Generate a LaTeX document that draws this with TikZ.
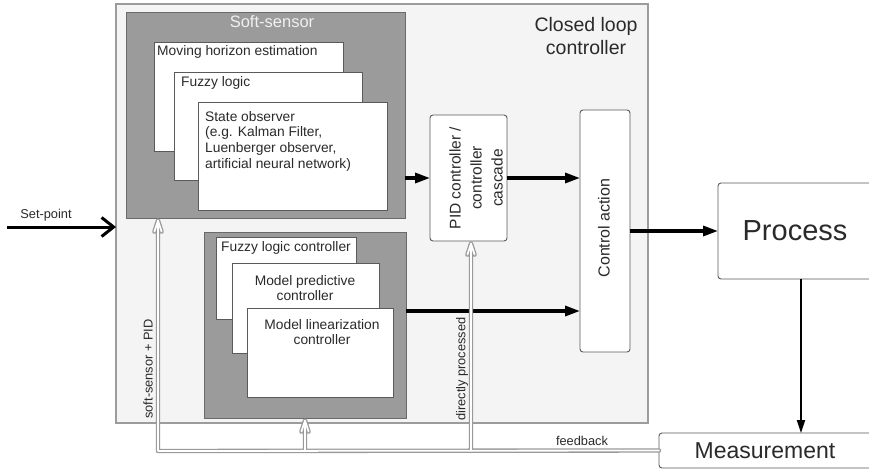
\documentclass[tikz,border=0pt]{standalone}
\usepackage{fontspec}
\setmainfont{Liberation Sans}
\usetikzlibrary{arrows.meta,calc}

\definecolor{panel}{HTML}{F4F4F4}
\definecolor{paneledge}{HTML}{9C9C9C}
\definecolor{groupfill}{HTML}{9B9B9B}
\definecolor{groupedge}{HTML}{6A6A6A}
\definecolor{cardedge}{HTML}{5A5A5A}
\definecolor{ink}{HTML}{2A2A2A}
\definecolor{pipe}{HTML}{9A9A9A}

\tikzset{
  frame/.style 2 args={anchor=north west, minimum width=#1pt, minimum height=#2pt, inner sep=0pt, outer sep=0pt},
  panelbox/.style={draw=paneledge, fill=panel, line width=1.2pt},
  groupbox/.style={draw=groupedge, fill=groupfill, line width=0.9pt},
  card/.style={draw=cardedge, fill=white, line width=0.9pt},
  rcard/.style={card, rounded corners=3pt},
  lbl/.style={font=\fontsize{13.8}{15.6}\selectfont, text=ink, inner sep=0pt},
  small/.style={lbl, font=\fontsize{12.8}{15}\selectfont},
  flow/.style={draw=black, line width=3.2pt, -{Triangle[length=15pt,width=10pt]}},
  thinflow/.style={draw=black, line width=1.8pt, -{Triangle[length=13pt,width=8pt]}},
  setarrow/.style={draw=black, line width=3pt, -{Straight Barb[length=12pt,width=19pt,line width=3pt]}},
  pipeout/.style={draw=pipe, line width=4.4pt, line join=round, line cap=round},
  pipein/.style={draw=white, line width=1.8pt, line join=round, line cap=round},
}

\begin{document}
\begin{tikzpicture}[x=1pt,y=-1pt]
  \useasboundingbox (0,0) rectangle (869,469);
  \clip (0,0) rectangle (869,469);
  \fill[white] (0,0) rectangle (869,469);

  % closed loop controller frame
  \node[panelbox, frame={532}{419}] (loop) at (116,4) {};
  \node[lbl, font=\fontsize{19.5}{23}\selectfont, align=center] (looptitle) at (586,36) {Closed loop\\controller};

  % soft-sensor group
  \node[groupbox, frame={279}{206}] (soft) at (126,12) {};
  \node[lbl, font=\fontsize{16.5}{19}\selectfont, text=white!94!black] (softtitle) at (272,22) {Soft-sensor};
  \node[card, frame={189}{109}] (mhe) at (154,42) {};
  \node[lbl, anchor=west] (mhetext) at (157,52) {Moving horizon estimation};
  \node[card, frame={188}{108}] (fuzzy) at (174,72) {};
  \node[lbl, anchor=west] (fuzzytext) at (181,83) {Fuzzy logic};
  \node[card, frame={189}{108}] (observer) at (198,102) {};
  \node[lbl, anchor=north west, align=left] (observertext) at (205,111)
    {State observer\\(e.g. Kalman Filter,\\Luenberger observer,\\artificial neural network)};

  % model based controller group
  \node[groupbox, frame={202}{186}] (ctrl) at (204,232) {};
  \node[card, frame={140}{82}] (flc) at (216,237) {};
  \node[lbl] (flctext) at (286,248) {Fuzzy logic controller};
  \node[card, frame={147}{90}] (mpc) at (232,263) {};
  \node[lbl, align=center] (mpctext) at (305,288) {Model predictive\\controller};
  \node[card, frame={146}{89}] (mlc) at (247,308) {};
  \node[lbl, align=center] (mlctext) at (322,332) {Model linearization\\controller};

  % PID and control action
  \node[rcard, frame={77}{126}] (pid) at (430,115) {};
  \node[lbl, font=\fontsize{15.5}{21}\selectfont, align=center, rotate=90] (pidtext) at (476,178)
    {PID controller /\\controller\\cascade};
  \node[rcard, frame={50}{242}] (act) at (580,110) {};
  \node[lbl, font=\fontsize{16}{19}\selectfont, rotate=90] (acttext) at (604,228) {Control action};

  % plant side
  \node[rcard, frame={190}{96}] (proc) at (718,183) {};
  \node[lbl, font=\fontsize{29}{33}\selectfont] (proctext) at (795,231) {Process};
  \node[rcard, frame={240}{35}] (meas) at (659,433) {};
  \node[lbl, font=\fontsize{23}{26}\selectfont] (meastext) at (765,451) {Measurement};

  % set-point input
  \coordinate (spstart) at (7,227);
  \draw[setarrow] (spstart) -- (spstart -| loop.west);
  \node[small] (sptext) at (46,215) {Set-point};

  % signal flow
  \draw[flow] (pid.west -| soft.east) -- (pid.west);
  \draw[flow] (pid.east) -- (pid.east -| act.west);
  \draw[flow] (proc.west -| act.east) -- (proc.west);
  \draw[flow] ([yshift=14pt]ctrl.east) -- ([yshift=14pt]ctrl.east -| act.west);
  \draw[thinflow] ([xshift=-12pt]proc.south) -- ([xshift=-12pt]proc.south |- meas.north);

  % feedback pipes (drawn as hollow double lines)
  \coordinate (fbcorner) at (158,451);
  \coordinate (fbmid) at (305,451);
  \coordinate (fbpid) at (471,451);
  \coordinate (tipA) at ($(fbcorner |- soft.south)+(0,2.6)$);
  \coordinate (tipB) at ($(fbmid |- ctrl.south)+(0,2.6)$);
  \coordinate (tipC) at ($(fbpid |- pid.south)+(0,2.6)$);
  \def\feedbackpipes{
    (meas.west) -- (fbcorner) -- (tipA)
    (fbmid) -- (tipB) (fbpid) -- (tipC)
    ($(tipA)+(-3.6,11)$) -- (tipA) -- ($(tipA)+(3.6,11)$)
    ($(tipB)+(-3.6,11)$) -- (tipB) -- ($(tipB)+(3.6,11)$)
    ($(tipC)+(-3.6,11)$) -- (tipC) -- ($(tipC)+(3.6,11)$)
  }
  \draw[pipeout] \feedbackpipes;
  \draw[pipein] \feedbackpipes;

  \node[small, rotate=90] (sptpid) at (148,369) {soft-sensor + PID};
  \node[small, rotate=90] (direct) at (462,369) {directly processed};
  \node[small] (fbtext) at (582,441) {feedback};
\end{tikzpicture}
\end{document}
